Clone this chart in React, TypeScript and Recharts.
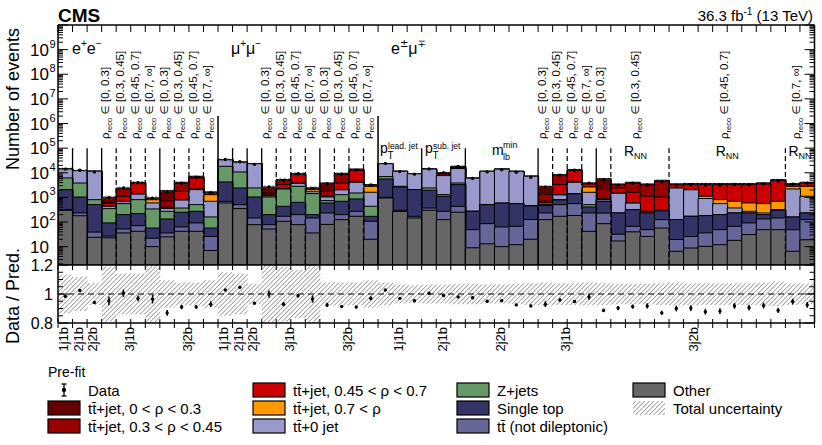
'use client';

import React from 'react';
import { ComposedChart, Bar, Scatter, ErrorBar, XAxis, YAxis, ReferenceLine } from 'recharts';

const WIDTH = 822;
const HEIGHT = 445;
const PLOT_LEFT = 58;
const PLOT_RIGHT = 814.5;
const N_BINS = 52;
const BIN_W = (PLOT_RIGHT - PLOT_LEFT) / N_BINS;
const FONT = '"Liberation Sans", Arial, Helvetica, sans-serif';
const MATH_FONT = '"DejaVu Sans", "Liberation Sans", sans-serif';

// bins: e+e- (0-10), mu+mu- (11-21), e+-mu-+ (22-51)
const ttjRho0 = [20, 100, 30, 380, 250, 150, 20, 1180, 400, 350, 40,
  80, 80, 50, 1140, 500, 250, 20, 2090, 900, 300, 40,
  40, 30, 30, 80, 700, 1000, 5, 5, 5, 5, 5, 1525, 400, 200, 110, 3700,
  210, 300, 250, 350, 50, 40, 40, 40, 40, 40, 60, 100, 100, 100];
const ttjRho1 = [10, 50, 15, 70, 1060, 330, 30, 300, 1930, 700, 80,
  30, 40, 25, 150, 1500, 550, 40, 660, 4750, 1200, 90,
  30, 20, 20, 60, 600, 900, 3, 3, 3, 3, 3, 595, 4700, 800, 200, 1200,
  880, 2190, 2150, 3550, 210, 280, 280, 280, 280, 280, 290, 360, 220, 200];
const ttjRho2 = [10, 30, 10, 125, 415, 2200, 90, 40, 960, 3950, 250,
  20, 20, 15, 200, 1000, 4550, 270, 60, 1780, 8100, 350,
  20, 15, 15, 50, 1100, 1400, 2, 2, 2, 2, 2, 100, 2005, 7900, 900, 50,
  910, 1015, 838, 741, 830, 1230, 2190, 2489, 2605, 2705, 2952, 4105, 480, 980];
const ttjRho3 = [5, 10, 5, 5, 20, 60, 215, 5, 30, 130, 595,
  10, 10, 10, 10, 20, 150, 370, 10, 40, 400, 1200,
  10, 10, 5, 10, 100, 200, 1, 1, 1, 1, 1, 10, 30, 400, 1040, 10,
  20, 10, 5, 5, 10, 30, 210, 253, 323, 323, 325, 377, 620, 1710];
const tt0jet = [8100, 8400, 10650, 85, 115, 550, 255, 82, 410, 1560, 534,
  15570, 16000, 21000, 110, 80, 880, 280, 300, 740, 2590, 1180,
  16400, 8600, 7060, 11680, 6400, 11000, 5720, 10880, 13400, 10830, 6730, 82, 454, 2680, 1102, 120,
  1237, 267, 34, 10, 2285, 1870, 718, 358, 139, 39, 33, 19, 2040, 877];
const zJets = [4100, 2800, 300, 258, 360, 590, 283, 140, 120, 237, 104,
  14060, 8400, 1380, 840, 1765, 2190, 1220, 145, 595, 645, 267,
  1400, 170, 5, 470, 180, 550, 10, 10, 10, 10, 10, 38, 20, 30, 100, 10,
  1, 1, 1, 1, 1, 1, 1, 1, 1, 1, 1, 1, 1, 1];
const singleTop = [1750, 800, 470, 65, 148, 149, 35, 97, 187, 181, 31,
  3545, 1900, 894, 122, 264, 430, 54, 362, 495, 592, 63,
  4600, 2350, 1900, 1580, 840, 2865, 220, 420, 520, 490, 330, 237, 282, 832, 175, 460,
  202, 251, 184, 159, 106, 145, 146, 151, 166, 141, 67, 153, 111, 108];
const ttNotDilep = [20, 55, 15, 4, 16, 29, 12, 11, 21, 50, 19,
  100, 160, 68, 26, 64, 122, 110, 153, 75, 102, 87,
  50, 30, 25, 70, 148, 185, 40, 73, 53, 55, 106, 108, 337, 373, 191, 144,
  15, 27, 23, 68, 13, 17, 26, 37, 49, 61, 84, 97, 42, 106];
const other = [300, 180, 24, 23, 36, 42, 10, 25, 42, 42, 7,
  595, 350, 78, 52, 107, 78, 36, 80, 125, 171, 20,
  950, 270, 146, 300, 125, 250, 9, 13, 10, 12, 20, 125, 171, 185, 42, 86,
  17, 40, 26, 57, 6.5, 8.8, 10.3, 12, 18, 31, 49, 49, 6.5, 19];

// relative total uncertainty, data / prediction and its error
const relUnc = [0.135, 0.118, 0.075, 0.19, 0.14, 0.14, 0.22, 0.094, 0.08, 0.08, 0.094,
  0.15, 0.14, 0.07, 0.2, 0.19, 0.165, 0.22, 0.08, 0.08, 0.08, 0.094,
  0.08, 0.065, 0.06, 0.065, 0.065, 0.07, 0.07, 0.065, 0.065, 0.07, 0.075, 0.08, 0.075, 0.075, 0.08, 0.075,
  0.07, 0.07, 0.07, 0.075, 0.08, 0.075, 0.075, 0.075, 0.075, 0.075, 0.08, 0.085, 0.075, 0.07];
const dataRatio = [0.984, 1.024, 0.941, 0.953, 1.005, 0.97, 0.965, 0.87, 0.91, 0.91, 0.93,
  1.028, 1.047, 0.936, 1.0, 0.93, 0.988, 0.965, 0.925, 0.913, 0.91, 0.97,
  1.028, 0.97, 0.953, 1.005, 0.99, 0.98, 0.974, 0.95, 0.953, 0.925, 0.918, 0.93, 0.958, 0.948, 0.98, 0.887,
  0.903, 0.913, 0.918, 0.87, 0.9, 0.903, 0.878, 0.882, 0.918, 0.906, 0.92, 0.887, 0.948, 0.925];
const dataErr = [0.008, 0.01, 0.008, 0.03, 0.025, 0.02, 0.03, 0.02, 0.015, 0.012, 0.02,
  0.006, 0.008, 0.006, 0.025, 0.015, 0.012, 0.025, 0.015, 0.01, 0.008, 0.015,
  0.006, 0.008, 0.01, 0.006, 0.008, 0.008, 0.01, 0.008, 0.008, 0.008, 0.01, 0.02, 0.012, 0.01, 0.02, 0.012,
  0.015, 0.015, 0.018, 0.015, 0.02, 0.02, 0.02, 0.02, 0.02, 0.02, 0.02, 0.018, 0.02, 0.02];

// annotations (positions in bin units)
const rhoRanges = ['[0, 0.3]', '[0.3, 0.45]', '[0.45, 0.7]', '[0.7, \u221e]'];
const rhoLabels = [
  ...[3.5, 4.5, 5.5, 6.5, 7.5, 8.5, 9.5, 10.5].map((c, i) => ({ c, t: rhoRanges[i % 4] })),
  ...[14.5, 15.5, 16.5, 17.5, 18.5, 19.5, 20.5, 21.5].map((c, i) => ({ c, t: rhoRanges[i % 4] })),
  ...[33.5, 34.5, 35.5, 36.5].map((c, i) => ({ c, t: rhoRanges[i] })),
  { c: 37.5, t: rhoRanges[0] },
  { c: 39.9, t: rhoRanges[1] },
  { c: 46, t: rhoRanges[2] },
  { c: 51, t: rhoRanges[3] },
];
const rnnCenters = [39.7, 46, 51];
const catLabels = [
  { c: 0.5, t: '1j1b' }, { c: 1.5, t: '2j1b' }, { c: 2.5, t: '2j2b' }, { c: 5, t: '3j1b' }, { c: 9, t: '3j2b' },
  { c: 11.5, t: '1j1b' }, { c: 12.5, t: '2j1b' }, { c: 13.5, t: '2j2b' }, { c: 16, t: '3j1b' }, { c: 20, t: '3j2b' },
  { c: 23.5, t: '1j1b' }, { c: 26.5, t: '2j1b' }, { c: 30.5, t: '2j2b' }, { c: 35, t: '3j1b' }, { c: 43.8, t: '3j2b' },
];
const solidEdges = [1, 2, 3, 7, 12, 13, 14, 18, 25, 28, 33, 37];
const dashedEdges = [4, 5, 6, 8, 9, 10, 15, 16, 17, 19, 20, 21, 34, 35, 36, 38, 42, 50];
const channelEdges = [11, 22];

const TT = 'tt\u0304';
const layers = [
  { key: 'other', name: 'Other', color: '#666666', values: other },
  { key: 'ttNotDilep', name: `${TT} (not dileptonic)`, color: '#666699', values: ttNotDilep },
  { key: 'singleTop', name: 'Single top', color: '#333366', values: singleTop },
  { key: 'zJets', name: 'Z+jets', color: '#669966', values: zJets },
  { key: 'tt0jet', name: `${TT}+0 jet`, color: '#9999cc', values: tt0jet },
  { key: 'ttjRho3', name: `${TT}+jet, 0.7 < \u03c1`, color: '#ff9900', values: ttjRho3 },
  { key: 'ttjRho2', name: `${TT}+jet, 0.45 < \u03c1 < 0.7`, color: '#cc0000', values: ttjRho2 },
  { key: 'ttjRho1', name: `${TT}+jet, 0.3 < \u03c1 < 0.45`, color: '#990000', values: ttjRho1 },
  { key: 'ttjRho0', name: `${TT}+jet, 0 < \u03c1 < 0.3`, color: '#660000', values: ttjRho0 },
];

const table = other.map((_, i) => {
  const row: any = { x: i + 0.5 };
  let cum = 0;
  layers.forEach((l) => {
    cum += l.values[i];
    row[l.key] = cum;
  });
  const u = relUnc[i];
  row.unc = [cum * (1 - u), cum * (1 + u)];
  row.data = cum * dataRatio[i];
  row.ratio = dataRatio[i];
  row.ratioErr = dataErr[i];
  row.band = [Math.max(0.8, 1 - u), Math.min(1.2, 1 + u)];
  return row;
});

const binEdges = Array.from({ length: N_BINS + 1 }, (_, i) => i);
const logTicks: number[] = [];
for (let d = 0; d <= 9; d++) {
  for (let m = 1; m <= 9; m++) {
    const v = m * Math.pow(10, d);
    if (v >= 2) logTicks.push(v);
  }
}
logTicks.push(1e10);
const ratioTicks = [0.8, 0.85, 0.9, 0.95, 1, 1.05, 1.1, 1.15, 1.2];

const bx = (e: number) => PLOT_LEFT + e * BIN_W;
const axisStyle = { stroke: '#000', strokeWidth: 1.5 };

const EdgeTick = ({ x, y, up = 0, down = 0 }: any) => (
  <line x1={x} x2={x} y1={y - up} y2={y + down} stroke="#000" strokeWidth={1} />
);

const LogTick = ({ x, y, payload, side }: any) => {
  const v = payload.value;
  const e = Math.floor(Math.log10(v) + 1e-9);
  const major = Math.round(v / Math.pow(10, e)) === 1;
  const len = major ? 10 : 5;
  const dir = side === 'right' ? -1 : 1;
  return (
    <g>
      <line x1={x} x2={x + dir * len} y1={y} y2={y} stroke="#000" strokeWidth={1} />
      {side !== 'right' && major && e >= 1 && e <= 9 && (
        <g fontFamily={FONT} fill="#000">
          <text x={x - 9} y={y + 6} textAnchor="end" fontSize={17}>10</text>
          {e > 1 && <text x={x - 8.5} y={y - 2} fontSize={11}>{e}</text>}
        </g>
      )}
    </g>
  );
};

const RatioTick = ({ x, y, payload, side }: any) => {
  const v = payload.value;
  const major = Math.abs(v - 0.8) < 1e-6 || Math.abs(v - 1) < 1e-6 || Math.abs(v - 1.2) < 1e-6;
  const len = major ? 10 : 5;
  const dir = side === 'right' ? -1 : 1;
  return (
    <g>
      <line x1={x} x2={x + dir * len} y1={y} y2={y} stroke="#000" strokeWidth={1} />
      {side !== 'right' && major && (
        <text x={x - 5} y={y + 6} textAnchor="end" fontSize={16} fontFamily={FONT} fill="#000">
          {Math.abs(v - 1) < 1e-6 ? '1' : v.toFixed(1)}
        </text>
      )}
    </g>
  );
};

const dot = (p: any) => <circle cx={p.cx} cy={p.cy} r={1.7} fill="#000" />;

const legendColX = [48, 253, 457, 633];
const legendRows = [
  [{ kind: 'data', name: 'Data' }, layers[8], layers[7]],
  [layers[6], layers[5], layers[4]],
  [layers[3], layers[2], layers[1]],
  [layers[0], { kind: 'unc', name: 'Total uncertainty' }],
];

export default function App() {
  return (
    <div style={{ position: 'absolute', left: 0, top: 0, width: WIDTH, height: HEIGHT, background: '#fff', fontFamily: FONT }}>
      <div style={{ position: 'absolute', left: 0, top: 0 }}>
        <ComposedChart width={WIDTH} height={270} data={table} margin={{ top: 24, right: 6.5, bottom: 4, left: 57 }} barCategoryGap={0} barGap={0}>
          <XAxis xAxisId="x" type="number" dataKey="x" domain={[0, N_BINS]} allowDataOverflow ticks={binEdges} interval={0}
            height={1} tickSize={0} tickMargin={0} tickLine={false} tick={<EdgeTick up={6} />} axisLine={axisStyle} />
          <XAxis xAxisId="xt" orientation="top" type="number" dataKey="x" domain={[0, N_BINS]} allowDataOverflow ticks={binEdges} interval={0}
            height={1} tickSize={0} tickMargin={0} tickLine={false} tick={<EdgeTick down={7} />} axisLine={axisStyle} />
          {layers.map((l) => (
            <XAxis key={l.key} xAxisId={l.key} type="number" dataKey="x" domain={[0, N_BINS]} allowDataOverflow hide />
          ))}
          <YAxis type="number" scale="log" domain={[1.8, 1e10]} allowDataOverflow ticks={logTicks} interval={0}
            width={1} tickSize={0} tickMargin={0} tickLine={false} tick={<LogTick side="left" />} axisLine={axisStyle} />
          <YAxis yAxisId="r" orientation="right" type="number" scale="log" domain={[1.8, 1e10]} allowDataOverflow ticks={logTicks} interval={0}
            width={1} tickSize={0} tickMargin={0} tickLine={false} tick={<LogTick side="right" />} axisLine={axisStyle} />
          {[...layers].reverse().map((l) => (
            <Bar key={l.key} xAxisId={l.key} dataKey={l.key} fill={l.color} stroke="#000" strokeWidth={1} isAnimationActive={false} />
          ))}
          <Bar xAxisId="x" dataKey="unc" fill="url(#hatchTop)" isAnimationActive={false} />
          {solidEdges.map((e) => (
            <ReferenceLine key={`s${e}`} xAxisId="x" segment={[{ x: e, y: 1.8 }, { x: e, y: 1e5 }]} stroke="#000" strokeWidth={1.3} />
          ))}
          {dashedEdges.map((e) => (
            <ReferenceLine key={`d${e}`} xAxisId="x" segment={[{ x: e, y: 1.8 }, { x: e, y: 1e5 }]} stroke="#000" strokeWidth={1.2} strokeDasharray="5 3" />
          ))}
          {channelEdges.map((e) => (
            <ReferenceLine key={`c${e}`} xAxisId="x" segment={[{ x: e, y: 1.8 }, { x: e, y: 2e6 }]} stroke="#000" strokeWidth={1.5} />
          ))}
          <Scatter xAxisId="x" dataKey="data" shape={dot} isAnimationActive={false} />
        </ComposedChart>
      </div>

      <div style={{ position: 'absolute', left: 0, top: 250 }}>
        <ComposedChart width={WIDTH} height={90} data={table} margin={{ top: 14, right: 6.5, bottom: 16, left: 57 }} barCategoryGap={0} barGap={0}>
          <XAxis xAxisId="x" type="number" dataKey="x" domain={[0, N_BINS]} allowDataOverflow ticks={binEdges} interval={0}
            height={1} tickSize={0} tickMargin={0} tickLine={false} tick={<EdgeTick up={4} down={5} />} axisLine={axisStyle} />
          <XAxis xAxisId="xt" orientation="top" type="number" dataKey="x" domain={[0, N_BINS]} allowDataOverflow ticks={binEdges} interval={0}
            height={1} tickSize={0} tickMargin={0} tickLine={false} tick={<EdgeTick down={5} />} axisLine={axisStyle} />
          <YAxis type="number" domain={[0.8, 1.2]} allowDataOverflow ticks={ratioTicks} interval={0}
            width={1} tickSize={0} tickMargin={0} tickLine={false} tick={<RatioTick side="left" />} axisLine={axisStyle} />
          <YAxis yAxisId="r" orientation="right" type="number" domain={[0.8, 1.2]} allowDataOverflow ticks={ratioTicks} interval={0}
            width={1} tickSize={0} tickMargin={0} tickLine={false} tick={<RatioTick side="right" />} axisLine={axisStyle} />
          <Bar xAxisId="x" dataKey="band" fill="url(#hatchRatio)" isAnimationActive={false} />
          <ReferenceLine xAxisId="x" y={1} stroke="#000" strokeWidth={1.2} strokeDasharray="6 4" />
          <Scatter xAxisId="x" dataKey="ratio" shape={dot} isAnimationActive={false}>
            <ErrorBar dataKey="ratioErr" direction="y" width={0} stroke="#000" strokeWidth={1.5} />
          </Scatter>
        </ComposedChart>
      </div>

      <svg width={WIDTH} height={HEIGHT} style={{ position: 'absolute', left: 0, top: 0, pointerEvents: 'none' }} fontFamily={FONT} fill="#000">
        <defs>
          <pattern id="hatchTop" patternUnits="userSpaceOnUse" width="3" height="3" patternTransform="rotate(45)">
            <line x1="0" y1="0" x2="0" y2="3" stroke="#555" strokeWidth="1.4" />
          </pattern>
          <pattern id="hatchRatio" patternUnits="userSpaceOnUse" width="3.2" height="3.2" patternTransform="rotate(45)">
            <line x1="0" y1="0" x2="0" y2="3.2" stroke="#8f8f8f" strokeWidth="1.5" />
          </pattern>
        </defs>

        <text x={58} y={21.5} fontSize={19} fontWeight="bold">CMS</text>
        <text x={813} y={21} fontSize={15} textAnchor="end">
          36.3 fb<tspan dy={-6} fontSize={10}>-1</tspan><tspan dy={6}> (13 TeV)</tspan>
        </text>

        <text transform="translate(18.5,28) rotate(-90)" fontSize={18} textAnchor="end">Number of events</text>
        <text transform="translate(18.5,296) rotate(-90)" fontSize={18} textAnchor="middle">Data / Pred.</text>

        <text x={72} y={54} fontSize={16}>e<tspan dy={-7} fontSize={10}>+</tspan><tspan dy={7}>e</tspan><tspan dy={-7} fontSize={10}>{'\u2212'}</tspan></text>
        <text x={231} y={54} fontSize={16}>{'\u03bc'}<tspan dy={-7} fontSize={10}>+</tspan><tspan dy={7}>{'\u03bc'}</tspan><tspan dy={-7} fontSize={10}>{'\u2212'}</tspan></text>
        <text x={391} y={54} fontSize={16}>e<tspan dy={-7} fontSize={10} fontFamily={MATH_FONT}>{'\u00b1'}</tspan><tspan dy={7}>{'\u03bc'}</tspan><tspan dy={-7} fontSize={10} fontFamily={MATH_FONT}>{'\u2213'}</tspan></text>

        {rhoLabels.map((l, i) => (
          <text key={i} transform={`translate(${bx(l.c) + 0.5},139) rotate(-90)`} fontSize={11.5}>
            {'\u03c1'}<tspan fontSize={7.5} dy={3}>reco</tspan>
            <tspan dy={-3} fontFamily={MATH_FONT} fontSize={10.5}>{' \u2208 '}</tspan>
            <tspan>{l.t}</tspan>
          </text>
        ))}

        {rnnCenters.map((c, i) => (
          <text key={i} x={bx(c)} y={156} fontSize={14} textAnchor="middle">
            R<tspan fontSize={9} dy={3}>NN</tspan>
          </text>
        ))}

        <text x={380} y={153} fontSize={14}>p</text>
        <text x={387.5} y={159} fontSize={10}>T</text>
        <text x={388} y={149} fontSize={8.5}>lead. jet</text>
        <text x={425} y={153} fontSize={14}>p</text>
        <text x={432.5} y={159} fontSize={10}>T</text>
        <text x={433} y={149} fontSize={8.5}>sub. jet</text>
        <text x={492} y={155} fontSize={14}>m</text>
        <text x={503} y={160} fontSize={9}>lb</text>
        <text x={503} y={148} fontSize={9}>min</text>

        {catLabels.map((l, i) => (
          <text key={i} transform={`translate(${bx(l.c) - 1.5},327) rotate(-90)`} fontSize={13} textAnchor="end" dominantBaseline="central">
            {l.t}
          </text>
        ))}

        <text x={48} y={377} fontSize={14}>Pre-fit</text>
        {legendRows.map((col, ci) =>
          col.map((item: any, ri) => {
            const x = legendColX[ci];
            const y = 390 + ri * 18;
            let sym;
            if (item.kind === 'data') {
              sym = (
                <g stroke="#000" strokeWidth={1.3}>
                  <line x1={x + 16} x2={x + 16} y1={y - 6} y2={y + 6} />
                  <line x1={x + 13.5} x2={x + 18.5} y1={y - 6} y2={y - 6} />
                  <line x1={x + 13.5} x2={x + 18.5} y1={y + 6} y2={y + 6} />
                  <circle cx={x + 16} cy={y} r={1.5} fill="#000" />
                </g>
              );
            } else if (item.kind === 'unc') {
              sym = <rect x={x} y={y - 7} width={32} height={14} fill="url(#hatchRatio)" />;
            } else {
              sym = <rect x={x} y={y - 7} width={32} height={14} fill={item.color} stroke="#000" strokeWidth={1.2} />;
            }
            return (
              <g key={`${ci}-${ri}`}>
                {sym}
                <text x={x + 40} y={y + 5.5} fontSize={15}>{item.name}</text>
              </g>
            );
          })
        )}
      </svg>
    </div>
  );
}
